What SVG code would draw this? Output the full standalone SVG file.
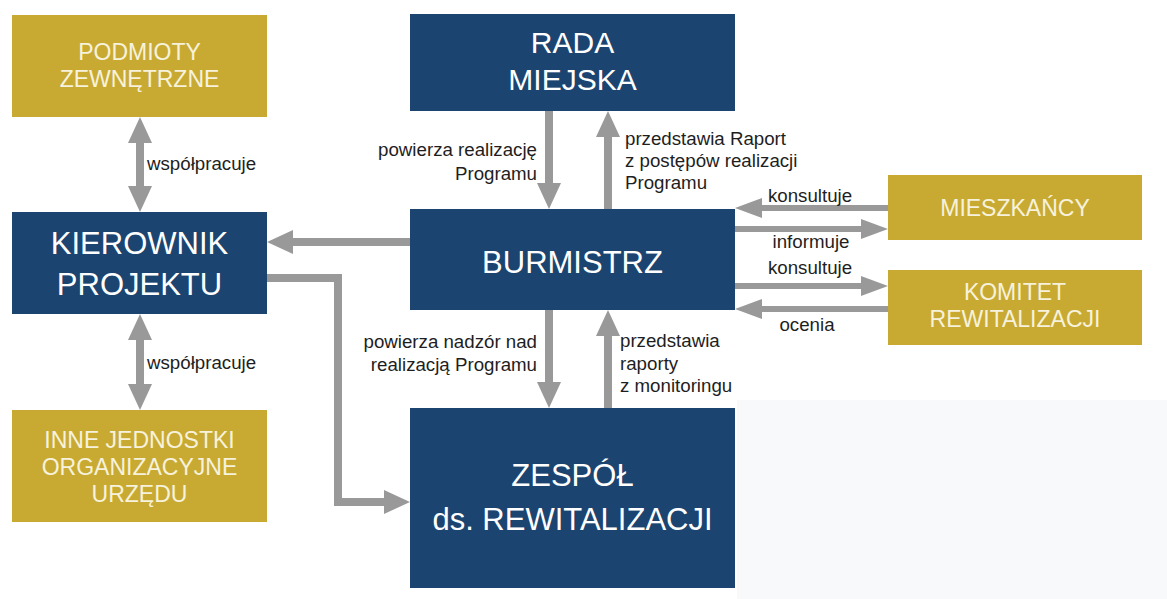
<svg xmlns="http://www.w3.org/2000/svg" width="1167" height="599" viewBox="0 0 1167 599">
<style>
.navy{fill:#1b4470}
.gold{fill:#c8aa33}
.nt{font-family:"Liberation Sans",Arial,Helvetica,sans-serif;fill:#ffffff;text-anchor:middle}
.gt{font-family:"Liberation Sans",Arial,Helvetica,sans-serif;fill:#f7f2dc;text-anchor:middle;font-size:23px}
.lb{font-family:"Liberation Sans",Arial,Helvetica,sans-serif;fill:#1e1e1e;font-size:18.7px}
.ar{fill:none;stroke:#999999;stroke-width:8}
.ath{fill:none;stroke:#999999;stroke-width:6}
</style>
<defs>
<marker id="h" markerUnits="userSpaceOnUse" markerWidth="26" markerHeight="24" refX="5" refY="12" orient="auto-start-reverse"><path d="M0,0 L26,12 L0,24 z" fill="#999999"/></marker>
<marker id="t" markerUnits="userSpaceOnUse" markerWidth="27" markerHeight="20" refX="5" refY="10" orient="auto-start-reverse"><path d="M0,0 L27,10 L0,20 z" fill="#999999"/></marker>
</defs>
<rect x="0" y="0" width="1167" height="599" fill="#ffffff"/>
<rect x="737" y="400" width="430" height="199" fill="#f8f9fb"/>
<g id="connectors">
<line class="ar" x1="140" y1="138" x2="140" y2="191" marker-start="url(#h)" marker-end="url(#h)"/>
<line class="ar" x1="140" y1="335" x2="140" y2="389" marker-start="url(#h)" marker-end="url(#h)"/>
<line class="ar" x1="410" y1="242" x2="288" y2="242" marker-end="url(#h)"/>
<polyline class="ar" points="267,278 338,278 338,502 389,502" marker-end="url(#h)"/>
<line class="ar" x1="549" y1="111" x2="549" y2="188" marker-end="url(#h)"/>
<line class="ar" x1="608" y1="209" x2="608" y2="132" marker-end="url(#h)"/>
<line class="ar" x1="549" y1="310" x2="549" y2="387" marker-end="url(#h)"/>
<line class="ar" x1="608" y1="408" x2="608" y2="331" marker-end="url(#h)"/>
<line class="ath" x1="888" y1="208" x2="757" y2="208" marker-end="url(#t)"/>
<line class="ath" x1="735" y1="229" x2="866" y2="229" marker-end="url(#t)"/>
<line class="ath" x1="735" y1="286" x2="866" y2="286" marker-end="url(#t)"/>
<line class="ath" x1="888" y1="309" x2="757" y2="309" marker-end="url(#t)"/>
</g>
<g id="labels">
<text class="lb" x="147" y="170">współpracuje</text>
<text class="lb" x="147" y="369">współpracuje</text>
<text class="lb" x="537" y="156" text-anchor="end">powierza realizację</text>
<text class="lb" x="537" y="180" text-anchor="end">Programu</text>
<text class="lb" x="625" y="145">przedstawia Raport</text>
<text class="lb" x="625" y="167">z postępów realizacji</text>
<text class="lb" x="625" y="189">Programu</text>
<text class="lb" x="810" y="202" text-anchor="middle">konsultuje</text>
<text class="lb" x="811" y="248" text-anchor="middle">informuje</text>
<text class="lb" x="810" y="274" text-anchor="middle">konsultuje</text>
<text class="lb" x="807" y="331" text-anchor="middle">ocenia</text>
<text class="lb" x="537" y="348" text-anchor="end">powierza nadzór nad</text>
<text class="lb" x="537" y="371" text-anchor="end">realizacją Programu</text>
<text class="lb" x="620" y="347">przedstawia</text>
<text class="lb" x="620" y="370">raporty</text>
<text class="lb" x="620" y="392">z monitoringu</text>
</g>
<g id="podmioty">
<rect class="gold" x="12" y="15" width="255" height="102"/>
<text class="gt" x="139.5" y="60">PODMIOTY</text>
<text class="gt" x="139.5" y="87">ZEWNĘTRZNE</text>
</g>
<g id="kierownik">
<rect class="navy" x="12" y="212" width="255" height="102"/>
<text class="nt" x="139.5" y="254" font-size="31">KIEROWNIK</text>
<text class="nt" x="139.5" y="295" font-size="31">PROJEKTU</text>
</g>
<g id="inne">
<rect class="gold" x="12" y="410" width="255" height="112"/>
<text class="gt" x="139.5" y="448">INNE JEDNOSTKI</text>
<text class="gt" x="139.5" y="475">ORGANIZACYJNE</text>
<text class="gt" x="139.5" y="502">URZĘDU</text>
</g>
<g id="rada">
<rect class="navy" x="410" y="14" width="325" height="97"/>
<text class="nt" x="572.5" y="53" font-size="30">RADA</text>
<text class="nt" x="572.5" y="90" font-size="30">MIEJSKA</text>
</g>
<g id="burmistrz">
<rect class="navy" x="410" y="209" width="325" height="101"/>
<text class="nt" x="572.5" y="273" font-size="31">BURMISTRZ</text>
</g>
<g id="zespol">
<rect class="navy" x="410" y="408" width="325" height="180"/>
<text class="nt" x="572.5" y="486" font-size="31">ZESPÓŁ</text>
<text class="nt" x="572.5" y="530" font-size="31">ds. REWITALIZACJI</text>
</g>
<g id="mieszkancy">
<rect class="gold" x="888" y="175" width="254" height="65"/>
<text class="gt" x="1015" y="216">MIESZKAŃCY</text>
</g>
<g id="komitet">
<rect class="gold" x="888" y="270" width="254" height="75"/>
<text class="gt" x="1015" y="300">KOMITET</text>
<text class="gt" x="1015" y="327">REWITALIZACJI</text>
</g>
</svg>
